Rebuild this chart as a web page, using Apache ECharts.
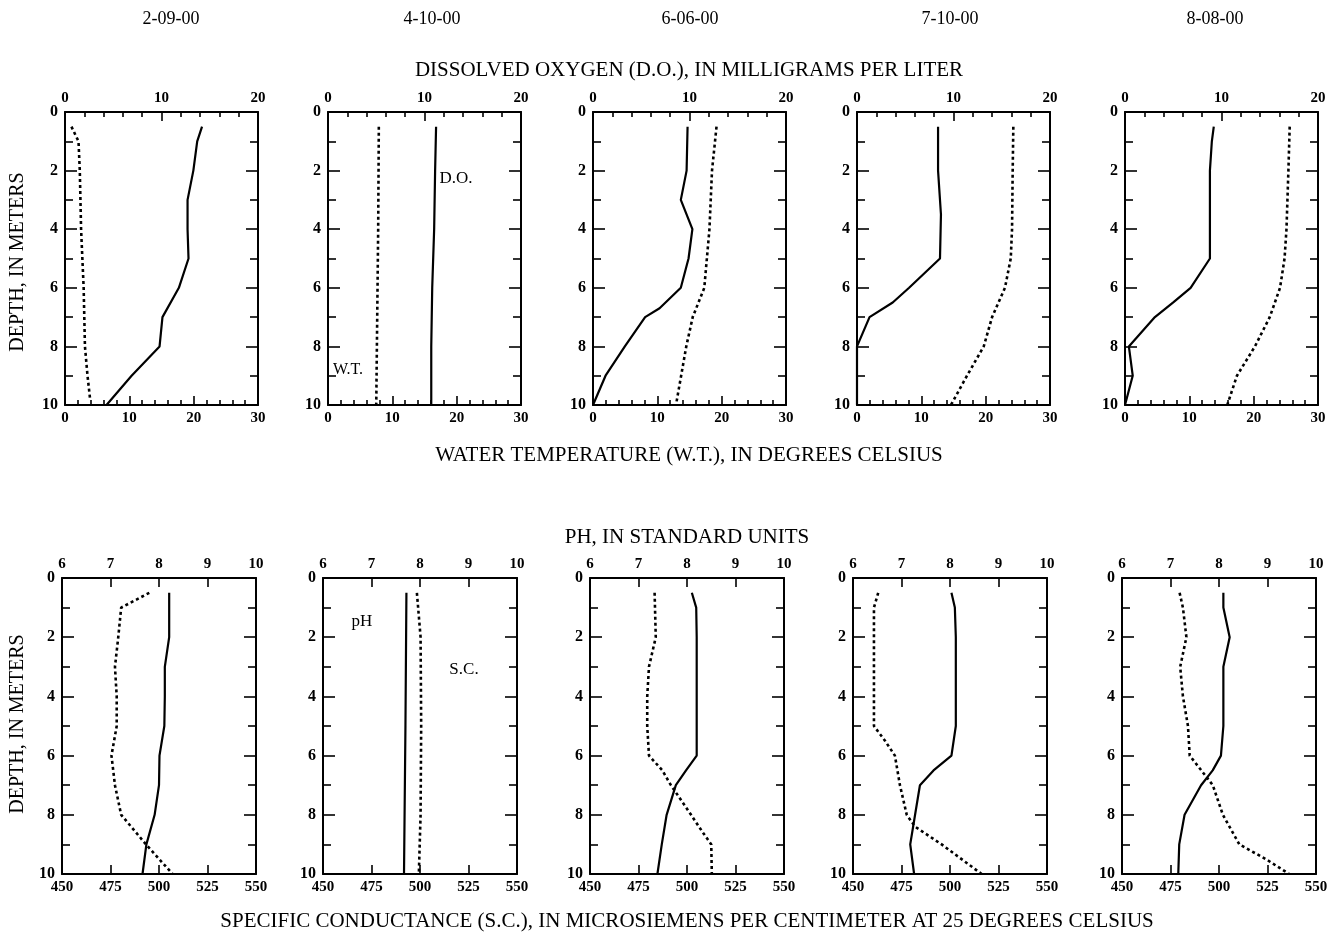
<!DOCTYPE html>
<html>
<head>
<meta charset="utf-8">
<script src="https://cdn.jsdelivr.net/npm/echarts@6/dist/echarts.min.js"></script>
<style>
  html, body { margin: 0; padding: 0; background: #fff; }
  #chart { width: 1333px; height: 934px; }
</style>
</head>
<body>
<div id="chart"></div>
<script>
// ---------------- DATA ----------------
const dates = ['2-09-00', '4-10-00', '6-06-00', '7-10-00', '8-08-00'];

const doTicks = [0, 10, 20];
const wtTicks = [0, 10, 20, 30];
const phTicks = [6, 7, 8, 9, 10];
const scTicks = [450, 475, 500, 525, 550];
const depthTicks = [0, 2, 4, 6, 8, 10];

// [depth (m), value]
const do_0209 = [[0.5,14.2],[1,13.7],[2,13.3],[3,12.7],[4,12.7],[5,12.8],[6,11.8],[7,10.1],[8,9.8],[9,6.9],[10,4.3]];
const wt_0209 = [[0.5,1.0],[1,2.1],[2,2.3],[4,2.5],[6,2.9],[8,3.1],[9,3.5],[9.8,3.9]];
const do_0410 = [[0.5,11.2],[2,11.1],[4,11.0],[6,10.8],[8,10.7],[10,10.7]];
const wt_0410 = [[0.5,7.9],[4,7.8],[8,7.6],[10,7.5]];
const do_0606 = [[0.5,9.8],[2,9.7],[3,9.1],[4,10.3],[5,9.9],[6,9.1],[6.7,6.9],[7,5.4],[8,3.3],[9,1.3],[10,0]];
const wt_0606 = [[0.5,19.2],[2,18.5],[4,18.1],[5,17.7],[6,17.3],[7,15.5],[8,14.5],[9,13.7],[10,12.9]];
const do_0710 = [[0.5,8.4],[2,8.4],[3.5,8.7],[5,8.6],[6,5.4],[6.5,3.7],[7,1.3],[8,0],[10,0]];
const wt_0710 = [[0.5,24.3],[2,24.2],[4,24.1],[5,23.9],[6,23.0],[7,21.0],[8,19.7],[9,17.1],[10,14.6]];
const do_0808 = [[0.5,9.2],[1,9.0],[2,8.8],[5,8.8],[6,6.8],[6.5,5.0],[7,3.1],[8,0.4],[9,0.8],[10,0]];
const wt_0808 = [[0.5,25.6],[2,25.4],[4,25.1],[5,24.8],[6,24.1],[7,22.5],[8,20.2],[9,17.4],[10,15.9]];

const ph_0209 = [[0.5,8.21],[2,8.21],[3,8.12],[4,8.12],[5,8.11],[6,8.01],[7,8.0],[8,7.91],[9,7.74],[10,7.66]];
const sc_0209 = [[0.5,495],[1,480.5],[2,479],[3,477.3],[4,478.2],[5,478.2],[6,475.5],[7,477.3],[8,480.5],[9,493.3],[10,507]];
const ph_0410 = [[0.5,7.72],[5,7.70],[10,7.67]];
const sc_0410 = [[0.5,498.4],[2,500.3],[5,500.6],[8,500.3],[10,499.4]];
const ph_0606 = [[0.5,8.10],[1,8.19],[2,8.2],[6,8.2],[6.5,7.98],[7,7.77],[8,7.58],[9,7.48],[10,7.39]];
const sc_0606 = [[0.5,483.3],[2,483.9],[3,480.4],[4,479.5],[5,479.5],[6,480.4],[6.5,487.3],[7,491.7],[8,502.1],[8.6,508.2],[9,512.5],[10,512.8]];
const ph_0710 = [[0.5,8.03],[1,8.1],[2,8.12],[5,8.12],[6,8.03],[6.5,7.66],[7,7.38],[8,7.28],[9,7.18],[10,7.26]];
const sc_0710 = [[0.5,463],[1,460.8],[5,460.8],[5.5,466.5],[6,471.6],[7,474.2],[8,477.7],[8.4,482],[9,495.7],[10,516.3]];
const ph_0808 = [[0.5,8.09],[1,8.09],[2,8.22],[3,8.09],[5,8.09],[6,8.04],[6.5,7.87],[7,7.63],[8,7.29],[9,7.18],[10,7.16]];
const sc_0808 = [[0.5,479.7],[1,481.4],[2,483.2],[3,480],[4,481.4],[5,484],[6,484.9],[6.5,490.9],[7,496.8],[8,502],[9,510.5],[9.5,524.2],[10,536.2]];

const doSeries = [do_0209, do_0410, do_0606, do_0710, do_0808];
const wtSeries = [wt_0209, wt_0410, wt_0606, wt_0710, wt_0808];
const phSeries = [ph_0209, ph_0410, ph_0606, ph_0710, ph_0808];
const scSeries = [sc_0209, sc_0410, sc_0606, sc_0710, sc_0808];

// ---------------- LAYOUT / STYLE ----------------
const FONT = 'Liberation Serif';
const topLefts = [65, 328, 593, 857, 1125];
const botLefts = [62, 323, 590, 853, 1122];

const chart = echarts.init(document.getElementById('chart'), null, { renderer: 'canvas' });

const grids = [], xAxes = [], yAxes = [], series = [];

function lbl(show) {
  return { show: show, color: '#000', fontFamily: FONT, fontWeight: 'bold', fontSize: 15,
           margin: 6, hideOverlap: false, showMinLabel: true, showMaxLabel: true };
}
function xAxis(gi, pos, ticks, minorSplit) {
  const min = ticks[0], max = ticks[ticks.length - 1];
  return {
    type: 'value', gridIndex: gi, position: pos, min: min, max: max,
    interval: ticks[1] - ticks[0],
    axisLine: { show: true, onZero: false, lineStyle: { color: '#000', width: 2 } },
    axisTick: { show: true, inside: true, length: 9, lineStyle: { color: '#000', width: 1.6 } },
    minorTick: { show: minorSplit > 0, splitNumber: minorSplit || 5, length: 5, lineStyle: { color: '#000', width: 1.6 } },
    splitLine: { show: false },
    axisLabel: lbl(true)
  };
}
function yAxis(gi, pos, showLabel) {
  return {
    type: 'value', gridIndex: gi, position: pos, inverse: true,
    min: depthTicks[0], max: depthTicks[depthTicks.length - 1], interval: depthTicks[1] - depthTicks[0],
    axisLine: { show: true, onZero: false, lineStyle: { color: '#000', width: 2 } },
    axisTick: { show: true, inside: true, length: 12, lineStyle: { color: '#000', width: 1.6 } },
    minorTick: { show: true, splitNumber: 2, length: 8, lineStyle: { color: '#000', width: 1.6 } },
    splitLine: { show: false },
    axisLabel: Object.assign(lbl(showLabel), { margin: 7, fontSize: 16 })
  };
}
function line(xi, yi, pairs, dotted) {
  return {
    type: 'line', xAxisIndex: xi, yAxisIndex: yi,
    data: pairs.map(p => [p[1], p[0]]),
    showSymbol: false, symbol: 'none', silent: true, animation: false, clip: true,
    lineStyle: dotted ? { color: '#000', width: 2.6, type: [3, 3] } : { color: '#000', width: 2.2 }
  };
}

for (let r = 0; r < 2; r++) {
  for (let i = 0; i < 5; i++) {
    const gi = r * 5 + i;
    grids.push(r === 0
      ? { left: topLefts[i], top: 112, width: 193, height: 293, outerBoundsMode: 'none', containLabel: false }
      : { left: botLefts[i], top: 578, width: 194, height: 296, outerBoundsMode: 'none', containLabel: false });
    const xTop = xAxes.length;
    if (r === 0) {
      xAxes.push(xAxis(gi, 'top', doTicks, 5));
      xAxes.push(xAxis(gi, 'bottom', wtTicks, 5));
    } else {
      xAxes.push(xAxis(gi, 'top', phTicks, 0));
      xAxes.push(xAxis(gi, 'bottom', scTicks, 0));
    }
    const yL = yAxes.length;
    yAxes.push(yAxis(gi, 'left', true));
    yAxes.push(yAxis(gi, 'right', false));
    if (r === 0) {
      series.push(line(xTop, yL, doSeries[i], false));
      series.push(line(xTop + 1, yL, wtSeries[i], true));
    } else {
      series.push(line(xTop, yL, phSeries[i], false));
      series.push(line(xTop + 1, yL, scSeries[i], true));
    }
  }
}

function txt(x, y, s, size, extra) {
  return Object.assign({
    type: 'text', x: x, y: y, silent: true,
    style: { text: s, fill: '#000', font: (size || 16) + 'px "' + FONT + '"', textAlign: 'center', textVerticalAlign: 'middle' }
  }, extra || {});
}

const graphics = [];
const dateX = [171, 432, 690, 950, 1215];
dates.forEach((d, i) => graphics.push(txt(dateX[i], 19, d, 18)));
graphics.push(txt(689, 70, 'DISSOLVED OXYGEN (D.O.), IN MILLIGRAMS PER LITER', 21));
graphics.push(txt(689, 455, 'WATER TEMPERATURE (W.T.), IN DEGREES CELSIUS', 21));
graphics.push(txt(687, 537, 'PH, IN STANDARD UNITS', 21));
graphics.push(txt(687, 921, 'SPECIFIC CONDUCTANCE (S.C.), IN MICROSIEMENS PER CENTIMETER AT 25 DEGREES CELSIUS', 21));
graphics.push(txt(18, 262, 'DEPTH, IN METERS', 20, { rotation: Math.PI / 2 }));
graphics.push(txt(18, 724, 'DEPTH, IN METERS', 20, { rotation: Math.PI / 2 }));
graphics.push(txt(456, 179, 'D.O.', 17));
graphics.push(txt(348, 370, 'W.T.', 16));
graphics.push(txt(362, 622, 'pH', 17));
graphics.push(txt(464, 670, 'S.C.', 17));

chart.setOption({
  backgroundColor: '#fff',
  animation: false,
  grid: grids,
  xAxis: xAxes,
  yAxis: yAxes,
  series: series,
  graphic: graphics
});
</script>
</body>
</html>
